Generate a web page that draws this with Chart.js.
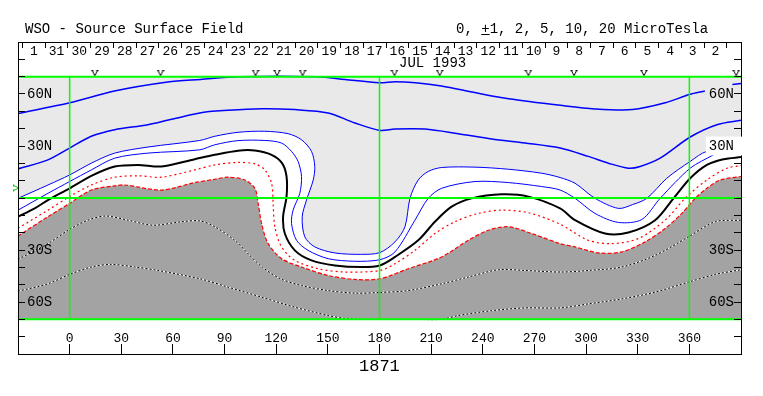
<!DOCTYPE html>
<html>
<head>
<meta charset="utf-8">
<script src="https://cdn.jsdelivr.net/npm/chart.js"></script>
<style>
  body { margin: 0; background: #fff; }
  #wrap { position: relative; width: 763px; height: 396px; }
  #c { position: absolute; left: 0; top: 0; }
  .t { position: absolute; font-family: 'Liberation Mono', monospace; color: #000; white-space: pre; }
</style>
</head>
<body>
<div id="wrap">
  <canvas id="c" width="763" height="396"></canvas>
  <div class="t" style="left:25px;top:22px;font-size:14px;line-height:14px">WSO - Source Surface Field</div>
  <div class="t" style="left:456px;top:22px;font-size:14px;line-height:14px">0, <u>+</u>1, 2, 5, 10, 20 MicroTesla</div>
  <div class="t" style="left:399px;top:56px;font-size:14px;line-height:14px">JUL 1993</div>
  <div class="t" style="left:359px;top:358px;font-size:17px;line-height:17px">1871</div>
</div>
<script>
// contour lines, [carrington longitude, latitude]
// positive field: blue, neutral line: black, negative: red / black-white
const pos10 = [[-30,48.7],[0,54.9],[26,61.7],[57,66.9],[76,68.4],[98,70],[144,70],[160,68.4],[180,66.5],[189,67.1],[201,66.5],[216,64.6],[236,60.7],[255,57.3],[285,53.5],[305,51.4],[327,51.0],[346,54.9],[360,59.7],[369,61.7],[377,null],[385,65.5],[390,66]];
const pos5 = [[-30,16.8],[-12.6,22.0],[0,28.8],[12.6,35.6],[26.2,39.4],[45.5,42.3],[75.6,49.1],[92,50.6],[111.5,51.5],[130.8,51.0],[150.2,49.1],[165.7,43.3],[180.2,39.0],[189,39.8],[206.4,39.8],[225.8,37.1],[245.2,34.0],[264.5,31.7],[284.9,28.8],[301.3,24.0],[313,20.1],[324.6,17.2],[331.4,18.2],[343,23],[360.5,35.2],[376,42.3],[390,44.8]];
const pos2 = [[-30,-0.2],[-12.6,7.5],[0,13.3],[12.6,20.1],[26.2,25.9],[45.5,29.4],[75.6,33.2],[84.3,35.6],[97.8,37.9],[113.4,38.5],[126.9,37.1],[134.7,33.6],[140.5,26.9],[142.4,18.2],[141.5,10.4],[137.6,-1.2],[135.1,-10.8],[136.6,-22.4],[142.4,-28.2],[154.1,-31.7],[169.6,-32.5],[180.2,-31.5],[189,-25.3],[194.8,-16.6],[197.7,-0.2],[202.5,10.4],[208.3,15.3],[216.1,17.6],[235.5,17.8],[254.8,16.6],[274.2,14.3],[284.9,11.8],[293.6,8.5],[305.2,-0.2],[318.8,-6.0],[327,-3.8],[335.3,-0.2],[346.9,11.4],[360.5,21.1],[370.2,26.9],[390,28.4]];
const pos1 = [[-30,-7.0],[-12.6,2.7],[0,9.5],[12.6,16.2],[26.2,23.0],[45.5,25.9],[75.6,27.8],[84.3,30.7],[97.8,33.1],[113.4,33.2],[123.1,31.7],[128.9,26.9],[132.7,21.1],[134.7,12.4],[133.7,2.7],[129.8,-7.0],[128.9,-14.7],[131.8,-24.4],[138.5,-30.2],[150.2,-35],[165.7,-36.5],[180.2,-35.6],[189,-31.1],[200.6,-12.8],[208.3,-0.2],[216.1,5.6],[235.5,9.5],[254.8,8.9],[274.2,6.6],[284.9,4.6],[293.6,-0.2],[305.2,-8.9],[318.8,-14.1],[332.4,-12.4],[343,-0.2],[360.5,17.2],[374,24.9]];
const zero = [[-30,-10.8],[-20.3,-6.0],[-12.6,-1.2],[0,5.6],[12.6,12.8],[26.2,18.2],[39.7,19.1],[53.3,18.2],[72.7,22.4],[84.3,24.9],[97.8,27.3],[107.6,27.4],[117.3,24.9],[123.4,20.1],[126,12.4],[126,0.8],[124,-10.8],[125,-20.5],[130.8,-30.2],[140.5,-36],[154.1,-38.9],[169.6,-39.8],[180.2,-38.9],[189,-34],[202.5,-24.4],[212.2,-13.7],[221.9,-5.0],[233.5,-0.2],[251,2.1],[266.5,0.8],[284.9,-6.0],[293.6,-12.8],[311,-20.5],[324.6,-19.9],[340.1,-12.8],[350.8,-0.2],[360.5,11.4],[370.2,19.1],[379.8,22.4],[390,23.6]];
const neg1 = [[-30,-17.5],[-12.6,-7.0],[0,0.8],[12.6,7.5],[26.2,12.0],[39.7,12.8],[53.3,12.0],[72.7,16.2],[84.3,19.1],[97.8,20.5],[107.6,19.7],[113.4,16.2],[117.3,8.5],[118.2,-3.1],[119.2,-16.6],[123.1,-28.2],[130.8,-36],[144.4,-40.8],[159.9,-42.7],[180.2,-41.8],[189,-37.9],[200.6,-30.2],[212.2,-20.5],[223.8,-13.7],[237.4,-8.9],[251,-7.0],[266.5,-8.5],[284.9,-15.1],[301.3,-24.4],[314.9,-26.3],[330.4,-23.4],[345.9,-12.8],[358.5,0.8],[370.2,10.4],[381.8,17.2],[390,18.7]];
const neg2 = [[-30,-21.9],[-12.6,-10.8],[0,-3.1],[12.6,4.6],[26.2,7.0],[32,7.5],[53.3,4.6],[72.7,8.9],[84.3,10.8],[92,12],[101.7,10.4],[107.6,5.6],[109.5,-3.1],[111.5,-14.7],[115.3,-26.3],[123.1,-35],[134.7,-39.8],[150.2,-44.7],[165.7,-47],[180.2,-46.6],[196.7,-40.8],[216.1,-34],[231.6,-24.4],[243.2,-18.6],[254.8,-16.6],[268.4,-20.5],[284.9,-26.3],[293.6,-28.2],[307.2,-31.7],[320.8,-31.1],[334.3,-25.3],[345.9,-17.6],[355.6,-8.9],[363.4,-0.2],[370.2,5.6],[377.9,10.4],[390,12.4]];
const neg5 = [[-30,-35.4],[-12.6,-26.3],[0,-18.1],[10.6,-12.8],[21,-10.4],[33.9,-12.8],[48.4,-15.7],[64.9,-13.7],[75.6,-13.2],[84.3,-16.6],[95.9,-24.4],[104.5,-33],[112,-40],[122.5,-46.6],[134.7,-50.5],[150.2,-53.4],[165.7,-54.9],[180.2,-54.5],[196.7,-53.4],[216.1,-49.5],[231.6,-45.6],[249,-41.4],[264.5,-41.8],[284.9,-42.7],[301.3,-41.8],[320.8,-39.8],[340.1,-33.1],[359.5,-22.4],[375,-13.7],[390,-12.8]];
const neg10 = [[-30,-53.8],[-12.6,-49.5],[0,-44.1],[12.6,-39.8],[24.2,-38.3],[37.8,-39.8],[51.3,-41.8],[75.6,-46.6],[92,-51.4],[111.5,-57.2],[130.8,-63],[150.2,-67.8],[159.9,-69.5],[170,-70],[200,-70],[216,-70],[225.8,-67.8],[245.2,-65],[264.5,-63.4],[284.9,-63.4],[301.3,-61.1],[320.8,-58.2],[340.1,-54.3],[359.5,-48.5],[375,-44.1],[390,-41.4]];

// observation marks along the top, and the B0 angle marker on the left
const vLon = [14.6, 52.8, 108, 120.5, 135.3, 188.7, 215, 266.5, 293, 333.6, 387.2];
const vLat = 72;
const b0 = [-31, 5.8];

// axes
const lonTicks = [0, 30, 60, 90, 120, 150, 180, 210, 240, 270, 300, 330, 360];
const latNames = {'60': '60N', '30': '30N', '-30': '30S', '-60': '60S'};
const dayEdges = [33, 32, 31, 30, 29, 28, 27, 26, 25, 24, 23, 22, 21, 20, 19, 18, 17, 16, 15, 14, 13, 12, 11, 10, 9, 8, 7, 6, 5, 4, 3, 2];
const dayLabels = ['1', '31', '30', '29', '28', '27', '26', '25', '24', '23', '22', '21', '20', '19', '18', '17', '16', '15', '14', '13', '12', '11', '10', '9', '8', '7', '6', '5', '4', '3', '2', ''];
const dayAt360 = 3.65;            // july date at longitude 360
const degPerDay = 360 / 27.2753;  // carrington rotation
const greenLat = [70, 0, -70];
const greenLon = [0, 180, 360];

const FONT = "'Liberation Mono', monospace";

function pts(a) { return a.map(p => ({x: p[0], y: p[1]})); }

function contour(data, color, width, dash, extra) {
  return Object.assign({
    data: pts(data), borderColor: color, borderWidth: width, borderDash: dash || [],
    pointRadius: 0, fill: false, tension: 0.3, order: 2
  }, extra || {});
}

function mark(color) {
  const cv = document.createElement('canvas');
  cv.width = 8; cv.height = 6;
  const g = cv.getContext('2d');
  g.strokeStyle = color; g.lineWidth = 1;
  g.beginPath(); g.moveTo(0.5, 0.5); g.lineTo(2.5, 0.5);
  g.moveTo(5.5, 0.5); g.lineTo(7.5, 0.5);
  g.moveTo(1.5, 0.5); g.lineTo(4, 5.5); g.lineTo(6.5, 0.5); g.stroke();
  return cv;
}

const datasets = [
  // the two filled regions go under everything (filler drawTime below)
  contour(pos2, '#0000ff', 1, null, {
    fill: {value: 70}, backgroundColor: '#e9e9e9',
    segment: {borderColor: c => c.p0.parsed.x >= 370 ? 'rgba(0,0,0,0)' : undefined}
  }),
  contour(neg2, '#ff0000', 1.2, [4, 2], {fill: {value: -70}, backgroundColor: '#a3a3a3'}),
  contour(pos10, '#0000ff', 1.5),
  contour(pos5, '#0000ff', 1.5),
  contour(pos1, '#0000ff', 1),
  contour(zero, '#000000', 2),
  contour(neg1, '#ff0000', 1.2, [2, 3]),
  contour(neg5, '#ffffff', 1, null, {order: 3}),
  contour(neg5, '#000000', 1, [2, 2]),
  contour(neg10, '#ffffff', 1, null, {order: 3}),
  contour(neg10, '#000000', 1, [2, 2])
];

greenLat.forEach(lat => datasets.push({
  data: [{x: -30, y: lat}, {x: 390, y: lat}], borderColor: '#00ff00', borderWidth: 2,
  pointRadius: 0, tension: 0, order: 0
}));
greenLon.forEach(lon => datasets.push({
  data: [{x: lon, y: -70}, {x: lon, y: 70}], borderColor: '#00ff00', borderWidth: 1.5,
  pointRadius: 0, tension: 0, order: 0
}));

datasets.push({
  data: vLon.map(x => ({x: x, y: vLat})), showLine: false,
  pointStyle: mark('#000'), pointRadius: 4, order: 0
});
datasets.push({
  data: [{x: b0[0], y: b0[1]}], showLine: false, clip: false,
  pointStyle: mark('#00cc00'), rotation: -90, pointRadius: 4, order: 0
});

function latAxis(pos, pad, backdrop) {
  return {
    type: 'linear', position: pos, min: -90, max: 90,
    ticks: {stepSize: 10, autoSkip: false, mirror: true, padding: pad, color: '#000',
            font: {family: FONT, size: 14}, z: 1,
            showLabelBackdrop: backdrop, backdropPadding: {left: 3, right: 8, top: 1, bottom: 1},
            backdropColor: c => c.tick && c.tick.value === 30 ? '#ffffff' : 'rgba(0,0,0,0)',
            callback: v => latNames[v] || ''},
    afterFit: s => { s.width = 0; },
    grid: {drawOnChartArea: false, tickLength: -7, color: '#000', z: 1},
    border: {display: true, color: '#000', width: 1, z: 1}
  };
}

new Chart(document.getElementById('c'), {
  type: 'line',
  data: {datasets: datasets},
  options: {
    responsive: false,
    animation: false,
    events: [],
    layout: {padding: {left: 18, right: 22, top: 42, bottom: 42}},
    plugins: {
      legend: {display: false},
      tooltip: {enabled: false},
      filler: {drawTime: 'beforeDatasetsDraw'}
    },
    scales: {
      x: {
        type: 'linear', position: 'bottom', min: -30, max: 390,
        afterBuildTicks: s => { s.ticks = lonTicks.map(v => ({value: v})); },
        afterFit: s => { s.height = 0; },
        grid: {drawOnChartArea: false, tickLength: -10, color: '#000', z: 1},
        border: {display: true, color: '#000', width: 1, z: 1},
        ticks: {mirror: true, padding: 8, color: '#000', autoSkip: false, maxRotation: 0,
                font: {family: FONT, size: 13}, z: 1}
      },
      xd: {
        type: 'linear', position: 'top', reverse: true,
        min: dayAt360 - 30 / degPerDay, max: dayAt360 + 390 / degPerDay,
        afterBuildTicks: s => { s.ticks = dayEdges.map(v => ({value: v})); },
        afterFit: s => { s.height = 0; },
        grid: {drawOnChartArea: false, tickLength: -6, color: '#000', z: 1},
        border: {display: true, color: '#000', width: 1, z: 1},
        ticks: {mirror: true, padding: 2, color: '#000', autoSkip: false, maxRotation: 0,
                labelOffset: 11.36, font: {family: FONT, size: 13}, z: 1,
                callback: (v, i) => dayLabels[i]}
      },
      y: latAxis('left', 9, false),
      // right side: chart.js puts mirrored labels at left + padding, so pull them back in
      y2: latAxis('right', -7, true)
    }
  }
});
</script>
</body>
</html>
